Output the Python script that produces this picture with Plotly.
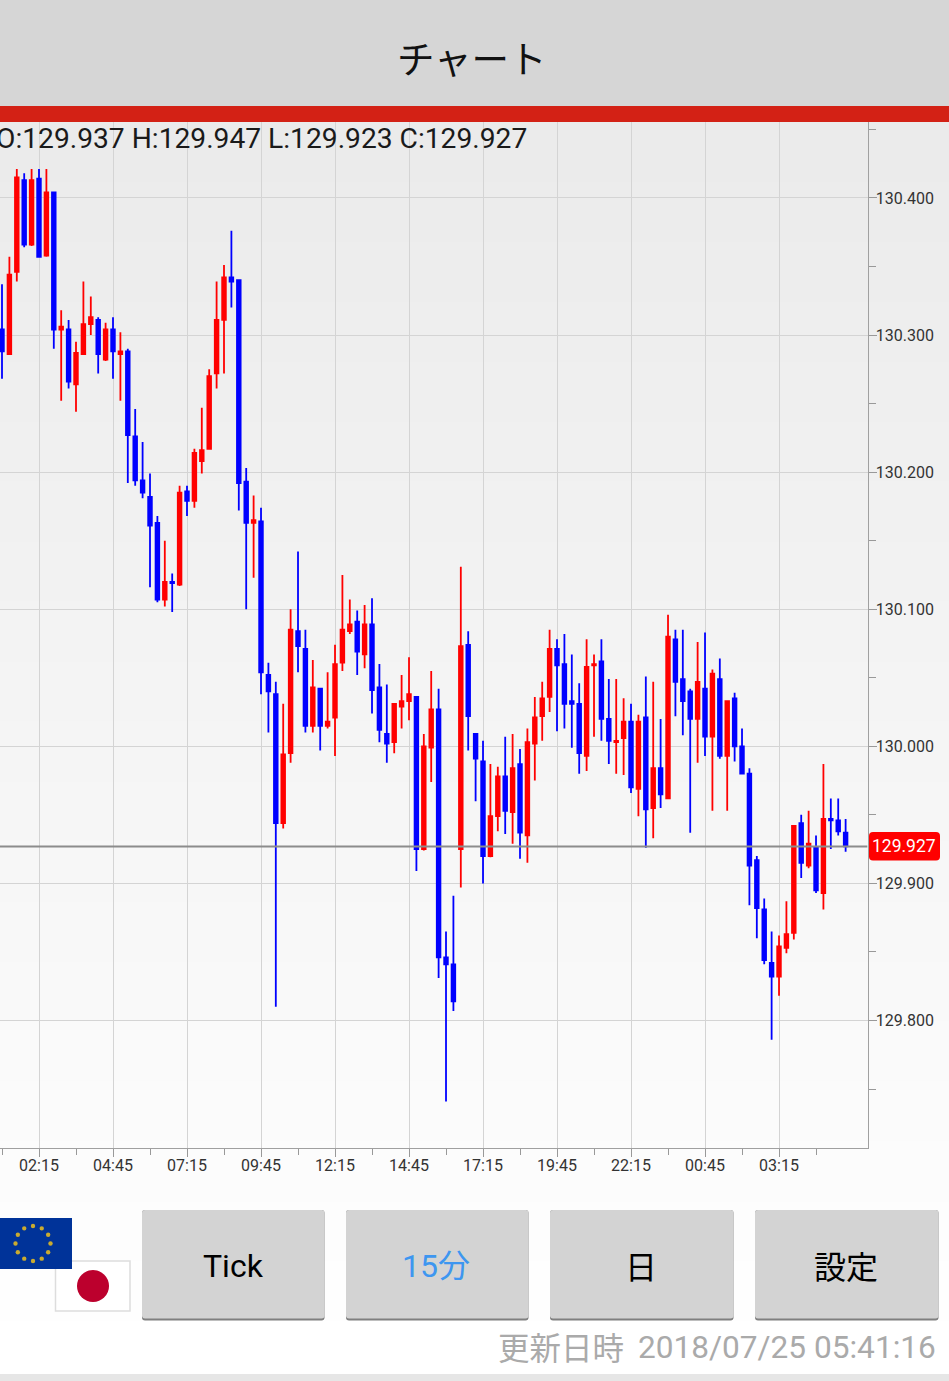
import math
import plotly.graph_objects as go

W, H = 949, 1381

opens = [130.304,130.286,130.346,130.413,130.366,130.414,130.358,130.404,130.304,130.304,
130.264,130.286,130.308,130.311,130.282,130.304,130.286,130.288,130.226,130.194,
130.182,130.163,130.107,130.120,130.118,130.186,130.179,130.208,130.217,130.272,
130.311,130.342,130.340,130.193,130.163,130.164,130.052,130.038,129.944,129.995,
130.084,130.071,130.015,130.042,130.015,130.021,130.061,130.084,130.091,130.067,
130.089,130.043,130.009,130.003,130.029,130.033,130.036,129.925,129.999,130.027,
129.846,129.841,129.925,130.074,130.009,129.989,129.920,129.949,129.978,129.952,
129.987,129.935,130.002,130.022,130.036,130.071,130.060,130.033,130.031,129.993,
130.059,130.062,130.020,130.003,130.006,130.018,129.969,130.021,129.955,129.984,
129.962,130.078,130.049,130.040,130.020,130.042,130.007,130.049,129.993,130.035,
130.000,129.980,129.917,129.881,129.842,129.832,129.853,129.864,129.944,129.913,
129.926,129.893,129.947,129.946,129.937]

highs = [130.337,130.357,130.421,130.418,130.421,130.421,130.421,130.404,130.318,130.311,
130.295,130.339,130.328,130.313,130.309,130.313,130.302,130.290,130.246,130.222,
130.199,130.168,130.150,130.126,130.190,130.190,130.217,130.247,130.275,130.339,
130.351,130.376,130.340,130.203,130.183,130.174,130.061,130.047,130.031,130.100,
130.142,130.085,130.063,130.042,130.054,130.074,130.125,130.107,130.099,130.103,
130.108,130.060,130.045,130.031,130.052,130.065,130.036,130.009,130.055,130.042,
129.865,129.891,130.131,130.084,130.009,130.004,129.987,129.985,130.007,130.009,
129.998,130.013,130.036,130.047,130.085,130.078,130.082,130.067,130.046,130.078,
130.067,130.078,130.049,130.049,130.035,130.031,130.023,130.051,130.047,130.020,
130.096,130.085,130.085,130.042,130.076,130.083,130.056,130.064,130.033,130.039,
130.013,129.984,129.920,129.889,129.865,129.862,129.887,129.942,129.950,129.953,
129.935,129.987,129.962,129.962,129.947]

lows = [130.268,130.286,130.339,130.364,130.365,130.357,130.357,130.290,130.252,130.261,
130.244,130.286,130.300,130.272,130.281,130.268,130.252,130.192,130.190,130.181,
130.116,130.105,130.102,130.098,130.117,130.168,130.174,130.199,130.217,130.261,
130.272,130.320,130.172,130.100,130.123,130.038,130.010,129.810,129.940,129.988,
130.054,130.010,130.010,129.997,130.013,129.993,130.055,130.082,130.052,130.057,
130.024,130.003,129.988,129.995,130.013,130.019,129.909,129.924,129.974,129.831,
129.741,129.807,129.897,129.997,129.960,129.900,129.919,129.938,129.936,129.929,
129.918,129.915,129.975,130.004,130.025,130.011,130.013,129.999,129.980,129.982,
130.007,130.004,129.987,129.980,129.979,129.966,129.949,129.926,129.933,129.955,
129.962,130.022,130.008,129.937,129.988,129.993,129.953,129.991,129.953,129.989,
129.980,129.884,129.860,129.841,129.786,129.818,129.849,129.859,129.904,129.911,
129.893,129.881,129.925,129.935,129.923]

closes = [130.288,130.344,130.415,130.366,130.413,130.357,130.404,130.304,130.306,130.266,
130.287,130.308,130.313,130.286,130.304,130.288,130.288,130.227,130.194,130.185,
130.161,130.107,130.120,130.119,130.185,130.179,130.214,130.216,130.270,130.311,
130.342,130.339,130.192,130.163,130.165,130.054,130.040,129.944,129.994,130.085,
130.073,130.015,130.043,130.015,130.018,130.060,130.085,130.089,130.069,130.089,
130.041,130.012,130.002,130.031,130.033,130.038,129.925,130.000,130.027,129.846,
129.841,129.814,130.073,130.022,129.991,129.920,129.949,129.978,129.953,129.984,
129.937,130.003,130.021,130.035,130.071,130.059,130.031,130.031,129.995,130.058,
130.060,130.020,130.004,130.004,130.018,129.970,130.018,129.954,129.984,129.965,
130.080,130.047,130.033,130.020,130.047,130.007,130.053,129.993,130.033,130.000,
129.980,129.913,129.882,129.844,129.832,129.854,129.863,129.942,129.915,129.929,
129.895,129.947,129.946,129.938,129.927]

time_ticks = [5,15,25,35,45,55,65,75,85,95,105]
time_labels = ["02:15","04:45","07:15","09:45","12:15","14:45","17:15","19:45","22:15","00:45","03:15"]
minor_time_ticks = [0,10,20,30,40,50,60,70,80,90,100,110]
price_ticks = [129.8,129.9,130.0,130.1,130.2,130.3,130.4]
price_labels = ["129.800","129.900","130.000","130.100","130.200","130.300","130.400"]
minor_price_ticks = [129.75,129.85,129.95,130.05,130.15,130.25,130.35,130.45]
last_price = 129.927

def px(x): return x / W
def py(y): return 1 - y / H

shapes = []
def rect(x0, y0, x1, y1, fill, line=None, lw=0):
    shapes.append(dict(type="rect", xref="paper", yref="paper", layer="below",
                       x0=px(x0), x1=px(x1), y0=py(y0), y1=py(y1),
                       fillcolor=fill, line=dict(color=line or fill, width=lw)))

def rrect(x0, y0, x1, y1, r, fill, layer="below"):
    X0, X1, Y0, Y1 = px(x0), px(x1), py(y0), py(y1)
    rx, ry = r / W, r / H
    p = (f"M{X0+rx},{Y0} L{X1-rx},{Y0} Q{X1},{Y0} {X1},{Y0-ry} L{X1},{Y1+ry} Q{X1},{Y1} {X1-rx},{Y1} "
         f"L{X0+rx},{Y1} Q{X0},{Y1} {X0},{Y1+ry} L{X0},{Y0-ry} Q{X0},{Y0} {X0+rx},{Y0} Z")
    shapes.append(dict(type="path", xref="paper", yref="paper", layer=layer, path=p,
                       fillcolor=fill, line=dict(width=0)))

def circle(cx, cy, r, fill):
    shapes.append(dict(type="circle", xref="paper", yref="paper", layer="below",
                       x0=px(cx - r), x1=px(cx + r), y0=py(cy + r), y1=py(cy - r),
                       fillcolor=fill, line=dict(width=0)))

# page gradient, one strip per grey level
top, bottom, levels = 122, 1381, 21
for k in range(levels):
    g = 235 + k
    rect(0, top + (bottom - top) * k / levels, W, top + (bottom - top) * (k + 1) / levels + 1, f"rgb({g},{g},{g})")

# header
rect(0, 0, W, 107, "#d6d6d6")
rect(0, 106, W, 122, "#d32115")

# bottom strip
rect(0, 1374, W, H, "#e6e6e6")

# flags
rect(55.5, 1261, 130, 1311, "#ffffff", "#dddddd", 1.5)
circle(93, 1286, 16, "#bc002d")
rect(-2, 1218, 72, 1269, "#003399")
for k in range(12):
    a = 2 * math.pi * k / 12
    circle(33 + 17.5 * math.sin(a), 1243.5 - 17.5 * math.cos(a), 2.2, "#c9ab30")

# buttons
for x0, x1 in [(142, 324.5), (346, 528.5), (550, 733.5), (755, 938.5)]:
    rrect(x0, 1210, x1, 1320.5, 3, "#7f7f7f")
    rrect(x0, 1210, x1, 1318.5, 3, "#d3d3d3")

# current-price marker
rrect(869, 832, 940, 860.5, 4, "#ff0000", layer="above")
shapes.append(dict(type="line", xref="x", yref="y", layer="above", x0=-1, x1=116.97,
                   y0=last_price, y1=last_price, line=dict(color="#8c8c8c", width=2)))

def text(x, y, s, size, color, family="Roboto, 'Noto Sans CJK JP'", anchor="center"):
    return dict(xref="paper", yref="paper", x=px(x), y=py(y), text=s, showarrow=False,
                xanchor=anchor, yanchor="middle", align=anchor,
                font=dict(size=size, color=color, family=family))

annotations = [
    text(472, 57, "チャート", 37.5, "#111111", "'Noto Sans CJK JP'"),
    text(-6, 139, "O:129.937 H:129.947 L:129.923 C:129.927", 28.2, "#1a1a1a", anchor="left"),
    text(904, 846, f"{last_price:.3f}", 17.5, "#ffffff"),
    text(233, 1266, "Tick", 32, "#000000"),
    text(436, 1265.5, "15分", 32, "#3d96f0"),
    text(641, 1265, "日", 32, "#000000", "'Noto Sans CJK JP'"),
    text(846, 1265, "設定", 32, "#000000", "'Noto Sans CJK JP'"),
    text(496, 1346, "更新日時", 31.5, "#aaaaaa", "'Noto Sans CJK JP'", anchor="left"),
    text(938, 1347, "2018/07/25 05:41:16", 31.6, "#aaaaaa", "Roboto", anchor="right"),
]

x_vals = list(range(len(opens)))
fig = go.Figure(go.Candlestick(
    x=x_vals, open=opens, high=highs, low=lows, close=closes,
    whiskerwidth=0, hoverinfo="skip",
    increasing=dict(line=dict(color="#ff0000", width=1.8), fillcolor="#ff0000"),
    decreasing=dict(line=dict(color="#0000ff", width=1.8), fillcolor="#0000ff"),
))

fig.update_layout(
    width=W, height=H, autosize=False,
    margin=dict(l=0, r=0, t=0, b=0),
    paper_bgcolor="rgba(0,0,0,0)", plot_bgcolor="rgba(0,0,0,0)",
    showlegend=False, hovermode=False, boxgap=0.3,
    shapes=shapes, annotations=annotations,
    font=dict(family="Roboto, 'Noto Sans CJK JP'"),
    xaxis=dict(
        domain=[0, 867.6 / W], range=[-0.27, 116.97], rangeslider=dict(visible=False),
        tickmode="array", tickvals=time_ticks, ticktext=time_labels,
        ticks="outside", ticklen=8, tickwidth=1, tickcolor="#999999", ticklabelstandoff=-5,
        tickfont=dict(size=16, color="#333333", family="Roboto"),
        showgrid=True, gridcolor="#d4d4d4", gridwidth=1, zeroline=False,
        showline=True, linecolor="#a0a0a0", linewidth=1,
        minor=dict(tickmode="array", tickvals=minor_time_ticks, ticks="outside", ticklen=6,
                   tickwidth=1, tickcolor="#999999", showgrid=False),
    ),
    yaxis=dict(
        domain=[py(1148), py(122)], range=[129.7070, 130.45536], side="right",
        tickmode="array", tickvals=price_ticks, ticktext=price_labels,
        ticks="outside", ticklen=8, tickwidth=1, tickcolor="#999999", ticklabelstandoff=-4,
        tickfont=dict(size=16, color="#333333", family="Roboto"),
        showgrid=True, gridcolor="#d4d4d4", gridwidth=1, zeroline=False,
        showline=True, linecolor="#a0a0a0", linewidth=1,
        minor=dict(tickmode="array", tickvals=minor_price_ticks, ticks="outside", ticklen=7,
                   tickwidth=1, tickcolor="#999999", showgrid=False),
    ),
)

fig.write_html("out.html", config=dict(displayModeBar=False),
               post_script="document.documentElement.style.margin='0';document.body.style.margin='0';document.body.style.overflow='hidden';")
